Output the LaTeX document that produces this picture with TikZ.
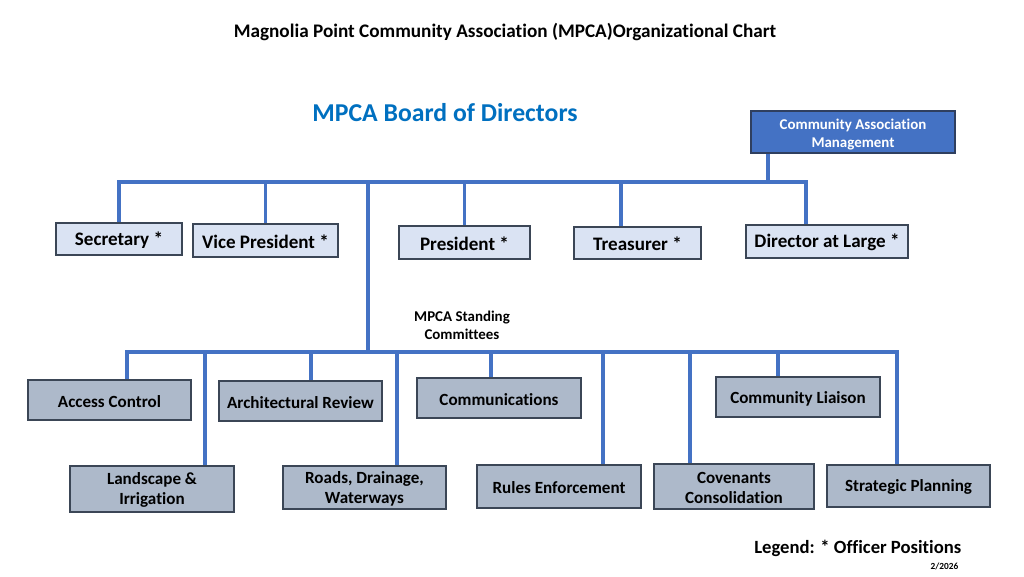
\documentclass[tikz,border=0pt]{standalone}
\usepackage{fontspec}
\setmainfont{Carlito}[Ligatures=NoCommon]
\definecolor{lineblue}{HTML}{4472C4}
\definecolor{headblue}{HTML}{0070C0}
\definecolor{boxlight}{HTML}{DAE3F3}
\definecolor{boxgray}{HTML}{ADB9CA}
\definecolor{boxedge}{HTML}{3B4656}
\definecolor{camedge}{HTML}{2F3F5F}
\tikzset{
  sz/.style 2 args={minimum width=#1*0.75pt, minimum height=#2*0.75pt},
  base/.style={draw=boxedge, line width=1.1pt, inner xsep=0pt, inner ysep=0pt, align=center, font=\bfseries},
  officer/.style={base, fill=boxlight, font=\bfseries\fontsize{14.3}{16}\selectfont},
  committee/.style={base, fill=boxgray, font=\bfseries\fontsize{12.8}{15}\selectfont},
  cambox/.style={base, draw=camedge, fill=lineblue, text=white, font=\bfseries\fontsize{11.2}{13.5}\selectfont},
  conn/.style={draw=lineblue, line width=2.3pt}
}
\begin{document}
\begin{tikzpicture}[x=0.75pt,y=-0.75pt]
\useasboundingbox (0,0) rectangle (1024,576);
\fill[white] (0,0) rectangle (1024,576);
% titles
\node[font=\bfseries\fontsize{14.4}{17}\selectfont] (title) at (505,32) {Magnolia Point Community Association (MPCA)Organizational Chart};
\node[font=\bfseries\fontsize{19.3}{22}\selectfont, text=headblue] (board) at (445,113) {MPCA Board of Directors};
% management
\node[cambox, sz={204}{42}] (cam) at (853,132) {\rule{0pt}{11pt}Community Association\\Management};
% officers
\node[officer, sz={126}{32}] (sec) at (119,239) {\rule{0pt}{12pt}Secretary *};
\node[officer, sz={145}{33}] (vp)  at (265.5,240.5) {\rule{0pt}{12pt}Vice President *};
\node[officer, sz={131}{33}] (pres) at (464.5,242.5) {\rule{0pt}{12pt}President *};
\node[officer, sz={127}{32}] (tre) at (637.5,243) {\rule{0pt}{12pt}Treasurer *};
\node[officer, sz={162}{33}] (dir) at (827,241.5) {\rule{0pt}{12pt}Director at Large *};
% standing committees label
\node[font=\bfseries\fontsize{11.2}{13.5}\selectfont, align=center] (sclabel) at (462,325) {MPCA Standing\\Committees};
% committees
\node[committee, sz={163}{40}] (acc) at (109.5,400) {\rule{0pt}{11pt}Access Control};
\node[committee, sz={163}{40}] (arch) at (300.5,401) {\rule{0pt}{11pt}Architectural Review};
\node[committee, sz={164}{40}] (comm) at (499,398) {\rule{0pt}{11pt}Communications};
\node[committee, sz={164}{40}] (liai) at (798,397) {\rule{0pt}{11pt}Community Liaison};
\node[committee, sz={164}{46}] (land) at (152,489) {\rule{0pt}{11pt}Landscape \&\\Irrigation};
\node[committee, sz={163}{43}] (road) at (364.5,487.5) {\rule{0pt}{11pt}Roads, Drainage,\\Waterways};
\node[committee, sz={164}{43}] (rule) at (559,486.5) {\rule{0pt}{11pt}Rules Enforcement};
\node[committee, sz={160}{45}] (cov) at (734,486.5) {\rule{0pt}{11pt}Covenants\\Consolidation};
\node[committee, sz={163}{42}] (strat) at (908.5,486) {\rule{0pt}{11pt}Strategic Planning};
% legend
\node[font=\bfseries\fontsize{14}{17}\selectfont, anchor=east] (legend) at (966,548) {Legend: * Officer Positions};
\node[font=\bfseries\fontsize{7}{8}\selectfont, anchor=east] (date) at (963,566) {2/2026};
% connector coordinates
\coordinate (bus1) at (0,182);
\coordinate (camdrop) at (768,182);
\coordinate (dT) at (621,182);
\coordinate (dD) at (806,182);
\coordinate (trunk) at (368,182);
\coordinate (bus2) at (368,352);
\coordinate (cL) at (127,352);
\coordinate (cLand) at (205,352);
\coordinate (cArch) at (311,352);
\coordinate (cRoad) at (397,352);
\coordinate (cComm) at (491,352);
\coordinate (cRule) at (603,352);
\coordinate (cCov) at (690,352);
\coordinate (cLiai) at (778,352);
\coordinate (cR) at (897,352);
% top bus
\draw[conn] (cam.south -| camdrop) -- (camdrop);
\draw[conn] (sec.north) -- (sec.north |- bus1) -- (dD) -- (dD |- dir.north);
\draw[conn] (vp.north) -- (vp.north |- bus1);
\draw[conn] (pres.north) -- (pres.north |- bus1);
\draw[conn] (dT) -- (dT |- tre.north);
\draw[conn] (trunk) -- (bus2);
% committee bus
\draw[conn] (cL |- acc.north) -- (cL) -- (cR) -- (cR |- strat.north);
\draw[conn] (cLand) -- (cLand |- land.north);
\draw[conn] (cArch) -- (cArch |- arch.north);
\draw[conn] (cRoad) -- (cRoad |- road.north);
\draw[conn] (cComm) -- (cComm |- comm.north);
\draw[conn] (cRule) -- (cRule |- rule.north);
\draw[conn] (cCov) -- (cCov |- cov.north);
\draw[conn] (cLiai) -- (cLiai |- liai.north);
\end{tikzpicture}
\end{document}
